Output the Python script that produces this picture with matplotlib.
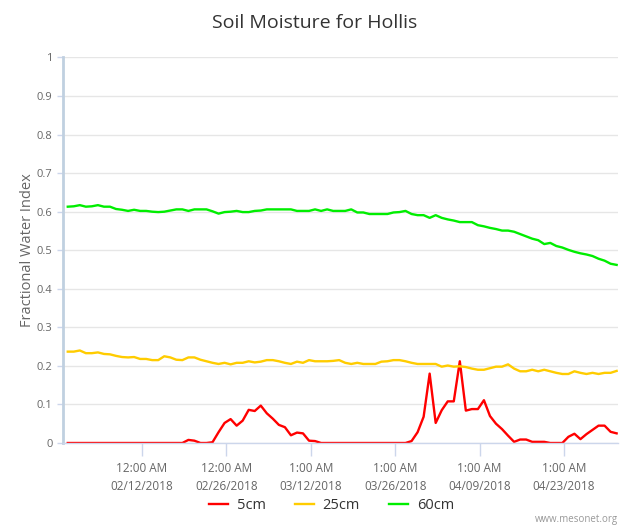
import numpy as np
import pandas as pd
import matplotlib
matplotlib.use("Agg")
import matplotlib.pyplot as plt

plt.rcParams['font.family'] = ['Open Sans', 'DejaVu Sans']

# daily readings, first one on the evening of 01/30/2018
dates = pd.date_range('2018-01-30 17:00', periods=92, freq='D')

moist_5cm = [0, 0, 0, 0, 0, 0, 0, 0, 0, 0,
             0, 0, 0, 0, 0, 0, 0, 0, 0, 0,
             0.008, 0.006, 0, 0, 0.002, 0.028, 0.052, 0.062, 0.045, 0.058,
             0.086, 0.083, 0.097, 0.077, 0.063, 0.047, 0.041, 0.020, 0.027, 0.025,
             0.006, 0.005, 0, 0, 0, 0, 0, 0, 0, 0,
             0, 0, 0, 0, 0, 0, 0, 0.005, 0.028, 0.068,
             0.180, 0.052, 0.085, 0.108, 0.108, 0.212, 0.084, 0.088, 0.088, 0.111,
             0.070, 0.050, 0.036, 0.019, 0.003, 0.009, 0.009, 0.003, 0.003, 0.003,
             0, 0, 0, 0.016, 0.024, 0.010, 0.023, 0.034, 0.045, 0.045,
             0.029, 0.025]

moist_25cm = [0.237, 0.237, 0.240, 0.233, 0.233, 0.235, 0.231, 0.230, 0.226, 0.223,
              0.222, 0.223, 0.218, 0.218, 0.215, 0.215, 0.225, 0.222, 0.216, 0.215,
              0.222, 0.222, 0.216, 0.212, 0.208, 0.205, 0.208, 0.204, 0.208, 0.208,
              0.212, 0.209, 0.211, 0.215, 0.215, 0.212, 0.208, 0.205, 0.211, 0.208,
              0.215, 0.212, 0.212, 0.212, 0.213, 0.215, 0.208, 0.205, 0.208, 0.205,
              0.205, 0.205, 0.211, 0.212, 0.215, 0.215, 0.212, 0.208, 0.205, 0.205,
              0.205, 0.205, 0.198, 0.201, 0.198, 0.199, 0.197, 0.193, 0.190, 0.190,
              0.194, 0.198, 0.198, 0.204, 0.193, 0.186, 0.186, 0.190, 0.186, 0.190,
              0.186, 0.182, 0.179, 0.179, 0.186, 0.182, 0.179, 0.182, 0.179, 0.182,
              0.182, 0.187]

moist_60cm = [0.613, 0.614, 0.617, 0.613, 0.614, 0.617, 0.613, 0.613, 0.607, 0.605,
              0.602, 0.605, 0.602, 0.602, 0.600, 0.599, 0.600, 0.603, 0.606, 0.606,
              0.602, 0.606, 0.606, 0.606, 0.601, 0.595, 0.599, 0.600, 0.602, 0.599,
              0.599, 0.602, 0.603, 0.606, 0.606, 0.606, 0.606, 0.606, 0.602, 0.602,
              0.602, 0.606, 0.602, 0.606, 0.602, 0.602, 0.602, 0.606, 0.598, 0.598,
              0.594, 0.594, 0.594, 0.594, 0.598, 0.599, 0.602, 0.594, 0.591, 0.591,
              0.584, 0.591, 0.584, 0.580, 0.577, 0.573, 0.573, 0.573, 0.565, 0.562,
              0.558, 0.555, 0.551, 0.551, 0.548, 0.542, 0.536, 0.530, 0.526, 0.516,
              0.519, 0.511, 0.507, 0.501, 0.496, 0.492, 0.489, 0.485, 0.478, 0.473,
              0.465, 0.462]

tick_dates = pd.to_datetime(['2018-02-12', '2018-02-26', '2018-03-12',
                             '2018-03-26', '2018-04-09', '2018-04-23'])
tick_labels = ['12:00 AM\n02/12/2018', '12:00 AM\n02/26/2018', '1:00 AM\n03/12/2018',
               '1:00 AM\n03/26/2018', '1:00 AM\n04/09/2018', '1:00 AM\n04/23/2018']

base = pd.Timestamp('2018-02-12')
x = (dates - base) / pd.Timedelta('1D')
xt = (tick_dates - base) / pd.Timedelta('1D')

fig = plt.figure(figsize=(6.2, 5.27), dpi=100)
ax = fig.add_axes([0.1024, 0.1594, 0.895, 0.7315])

l1, = ax.plot(x, moist_5cm, color='#ff0000', lw=1.7, label='5cm')
l2, = ax.plot(x, moist_25cm, color='#ffcc00', lw=1.7, label='25cm')
l3, = ax.plot(x, moist_60cm, color='#00ee00', lw=1.7, label='60cm')

ax.set_xlim(-13.0, 79.0)
ax.set_ylim(0, 1)
ax.set_yticks(np.arange(0, 1.01, 0.1))
ax.set_yticklabels(['0', '0.1', '0.2', '0.3', '0.4', '0.5', '0.6', '0.7', '0.8', '0.9', '1'])
ax.set_xticks(xt)
ax.set_xticklabels(tick_labels, linespacing=1.45)

ax.grid(axis='y', color='#e6e6e6', lw=1)
ax.set_axisbelow(True)
for s in ['top', 'right']:
    ax.spines[s].set_visible(False)
ax.spines['left'].set_color('#c0d0e0')
ax.spines['left'].set_linewidth(2)
ax.spines['bottom'].set_color('#ccd6eb')
ax.spines['bottom'].set_linewidth(1)
ax.tick_params(axis='x', colors='#ccd6eb', labelcolor='#666666', labelsize=8.5, length=9, width=1, pad=5)
ax.tick_params(axis='y', colors='#ccd6eb', labelcolor='#666666', labelsize=8, length=4, width=1, pad=4)

ax.set_ylabel('Fractional Water Index', color='#666666', fontsize=10.5, labelpad=1)
fig.text(0.508, 0.957, 'Soil Moisture for Hollis', ha='center', va='center',
         fontsize=14, color='#333333')

fig.legend(handles=[l1, l2, l3], loc='center', bbox_to_anchor=(0.535, 0.04), ncol=3,
           frameon=False, fontsize=10.5, handlelength=1.3, columnspacing=2.0,
           handletextpad=0.6, labelcolor='#333333')

fig.text(0.997, 0.003, 'www.mesonet.org', ha='right', va='bottom', fontsize=7, color='#999999')

fig.savefig('out.png', dpi=100)
